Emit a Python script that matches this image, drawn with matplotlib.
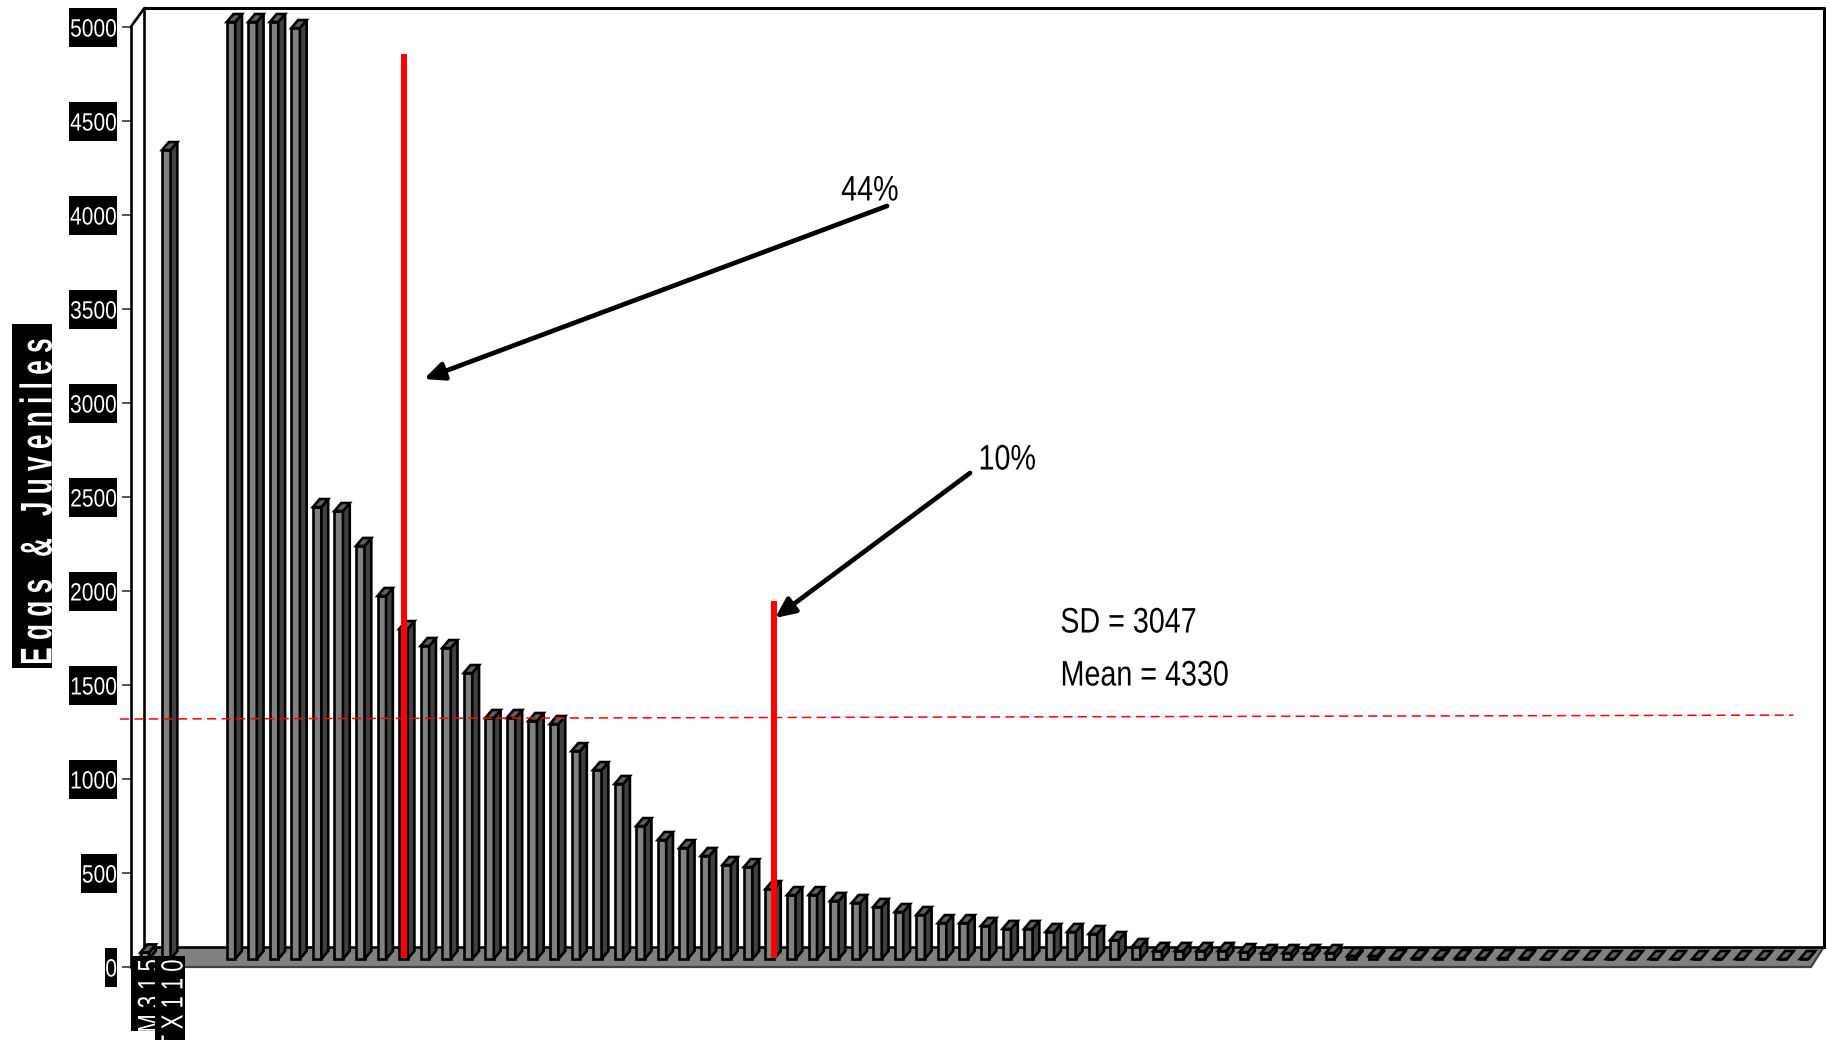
import numpy as np
import matplotlib
matplotlib.use("Agg")
import matplotlib.pyplot as plt
from matplotlib.patches import Polygon, Rectangle
from matplotlib.patheffects import AbstractPathEffect
from matplotlib.transforms import Affine2D, Bbox, IdentityTransform, TransformedBbox

# values; None = no bar at that position
values = [35, 4303, None, None, 4984, 4984, 4984, 4952,
          2404, 2383, 2197, 1931, 1755, 1665, 1654, 1521,
          1282, 1282, 1266, 1250, 1106, 1005, 931, 707,
          633, 590, 548, 500, 489, 372, 340, 340,
          309, 298, 277, 250, 234, 191, 191, 176,
          160, 160, 144, 144, 133, 101, 64, 43,
          43, 43, 43, 37, 32, 32, 32, 32,
          16, 16, 5, 5, 5, 5, 5, 5,
          5, 0, 0, 0, 0, 0, 0, 0,
          0, 0, 0, 0, 0, 0]
cat_labels = ["M315", "TX110"]
y_ticks = [0, 500, 1000, 1500, 2000, 2500, 3000, 3500, 4000, 4500, 5000]
cut_x = [12.05, 29.2]
cut_top = [4856, 1947]
cut_bottom = 48
mean_x = [-1.15, 76.5]
mean_y = [1319, 1340]

W, H = 1826, 1040
FONT = "Liberation Sans"

# the chart geometry is given in picture pixels
px = Affine2D().scale(1, -1).translate(0, H)
FRONT_L, FRONT_R, BACK_L = 130.7, 1811, 144.5
BACK_R, TOP, BACK_B, FRONT_B = 1823.7, 8, 947, 967
BAR_0, BAR_STEP = 144.75, 21.55
UNIT_PX = 94 / 500


class Squeeze(AbstractPathEffect):
    # condenses text along its own direction; no narrow font is installed
    def __init__(self, sx, anchor="left"):
        super().__init__()
        self.sx = sx
        self.anchor = anchor

    def draw_path(self, renderer, gc, tpath, affine, rgbFace=None):
        x0 = tpath.get_extents().x1 if self.anchor == "right" else tpath.get_extents().x0
        m = Affine2D().translate(-x0, 0).scale(self.sx, 1).translate(x0, 0)
        renderer.draw_path(gc, tpath, m + affine, rgbFace)


fig = plt.figure(figsize=(W / 100, H / 100), dpi=100)
ax = fig.add_axes([FRONT_L / W, 1 - FRONT_B / H, (BACK_R - FRONT_L) / W, (FRONT_B - TOP) / H])
ax.patch.set_alpha(0)
ax.set_xlim((FRONT_L - BAR_0) / BAR_STEP, (BACK_R - BAR_0) / BAR_STEP)
ax.set_ylim(0, (FRONT_B - TOP) / UNIT_PX)


def box(x0, y0, x1, y1, z=0.5):
    ax.add_patch(Rectangle((x0, y0), x1 - x0, y1 - y0, transform=px, fc="black",
                           ec="none", clip_on=False, zorder=z))


# ---- walls and floor ----
ax.add_patch(Polygon([(FRONT_L, FRONT_B), (BACK_L, BACK_B), (BACK_R, BACK_B), (FRONT_R, FRONT_B)],
                     transform=px, fc="#808080", ec="none", clip_on=False, zorder=1))
ax.plot([FRONT_L, FRONT_R, BACK_R], [FRONT_B, FRONT_B, BACK_B], transform=px, color="#404040",
        lw=1.6, clip_on=False, zorder=1.1)
ax.plot([BACK_L, BACK_R], [BACK_B, BACK_B], transform=px, color="black", lw=1.9,
        clip_on=False, zorder=1.1)
ax.plot([FRONT_L, BACK_L, BACK_L], [27, TOP, BACK_B], transform=px, color="black", lw=1.9,
        clip_on=False, zorder=1.1)
ax.plot([BACK_L, BACK_R, BACK_R], [TOP, TOP, BACK_B], transform=px, color="black", lw=2.2,
        clip_on=False, zorder=1.1)

for s in ["top", "right", "bottom"]:
    ax.spines[s].set_visible(False)
ax.spines["left"].set_bounds(0, 5000)
ax.spines["left"].set_linewidth(1.9)

# ---- bars: front by ax.bar, side and top as polygons ----
idx = np.array([i for i, v in enumerate(values) if v is not None])
vals = np.array([values[i] for i in idx], dtype=float)
base = 8 / UNIT_PX
bw = 8.5 / BAR_STEP
dx = 6.8 / BAR_STEP
dy = 8 / UNIT_PX
LW = 1.9
ax.bar(idx, vals, width=bw, bottom=base, color="#808080", edgecolor="black", linewidth=LW, zorder=3)
for x, v in zip(idx, vals):
    r = x + bw / 2
    l = x - bw / 2
    t = base + v
    ax.add_patch(Polygon([(r, base), (r + dx, base + dy), (r + dx, t + dy), (r, t)], fc="#404040",
                         ec="black", lw=LW, zorder=3, clip_on=False))
    ax.add_patch(Polygon([(l, t), (r, t), (r + dx, t + dy), (l + dx, t + dy)], fc="#606060",
                         ec="black", lw=LW, zorder=3, clip_on=False))

# ---- red markers ----
for x, t in zip(cut_x, cut_top):
    ax.plot([x, x], [cut_bottom, t], color="#ff0000", lw=4.3, solid_capstyle="butt", zorder=5,
            clip_on=False)
ax.plot(mean_x, mean_y, color="#ff0000", lw=1.1, dashes=(6, 3.5), zorder=4.5, clip_on=False)

# ---- y axis labels, white on black ----
ax.set_yticks(y_ticks)
ax.set_yticklabels([str(t) for t in y_ticks], family=FONT, fontsize=18, color="white")
ax.tick_params(axis="y", length=6.5, width=1.4, color="#555555", pad=3.2)
for lab in ax.get_yticklabels():
    lab.set_path_effects([Squeeze(0.84, "right")])
ax.set_xticks([])
for t in y_ticks:
    yp = FRONT_B - t * UNIT_PX
    box(117 - 12 * len(str(t)), yp - 19.5, 117, yp + 19.5)

# ---- category labels ----
for lab, xb, x0, x1, y1, z in zip(cat_labels, [159, 182.5], [131, 155], [161, 185], [1031, 1045], [6, 6.2]):
    box(x0, 956, x1, y1, z=z)
    ax.text(xb, 959, " ".join(lab), transform=px, rotation=90, rotation_mode="anchor", ha="right",
            va="baseline", color="white", family=FONT, fontsize=22, clip_on=False, zorder=z + 0.1,
            path_effects=[Squeeze(0.72, "right")])

# ---- axis title, descenders cut off by its box as in the picture ----
box(12, 324, 52, 668)
title = ax.text(51.5, 666, " ".join("Eggs & Juveniles"), transform=px, rotation=90, rotation_mode="anchor",
                ha="left", va="baseline", color="white", family=FONT, fontweight="bold", fontsize=32,
                path_effects=[Squeeze(0.59)])
title.set_clip_on(True)
title.set_clip_box(TransformedBbox(Bbox([[12, H - 668], [52, H - 324]]), IdentityTransform()))

# ---- annotations ----
for s, x, y in [("44%", 841, 191), ("10%", 978, 460), ("SD = 3047", 1060, 623), ("Mean = 4330", 1060, 676)]:
    ax.text(x, y, s, transform=px, ha="left", va="center", family=FONT, fontsize=25.5, color="black",
            zorder=7, clip_on=False, path_effects=[Squeeze(0.81)])
for head, tail in [((424, 379), (887, 206)), ((775, 618), (970, 473))]:
    ax.annotate("", xy=head, xytext=tail, xycoords=px, textcoords=px, annotation_clip=False, zorder=6,
                arrowprops=dict(arrowstyle="-|>,head_length=0.7,head_width=0.32", color="black", lw=3.4,
                                shrinkA=0, shrinkB=0, mutation_scale=17))

fig.savefig("out.png", dpi=100)
